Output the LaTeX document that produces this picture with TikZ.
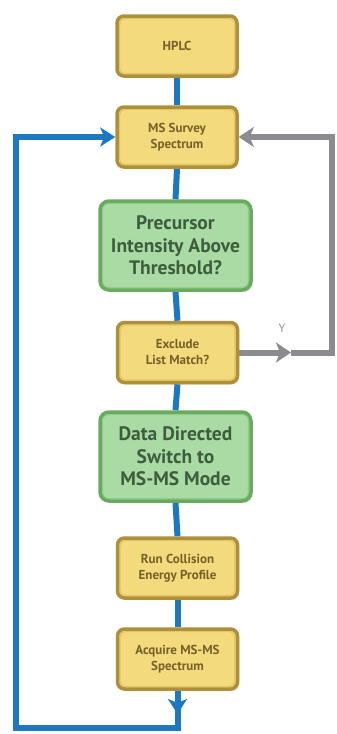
\documentclass[tikz,border=0pt]{standalone}
\usepackage{fontspec}
\setmainfont{PT Sans}
\usetikzlibrary{arrows.meta,shadows,backgrounds}
\definecolor{boxyellow}{HTML}{F3DA7C}
\definecolor{boxgold}{HTML}{AE8F3A}
\definecolor{boxrim}{HTML}{E2C667}
\definecolor{textbrown}{HTML}{76612A}
\definecolor{boxgreen}{HTML}{AADBA4}
\definecolor{boxgreenedge}{HTML}{68AA5E}
\definecolor{greenrim}{HTML}{92CB8B}
\definecolor{textgreen}{HTML}{3E5C3E}
\definecolor{flowblue}{HTML}{1C78C0}
\definecolor{flowgray}{HTML}{8C8C90}
\tikzset{
  innerrim/.style={path picture={
    \draw[#1, line width=1.2pt, rounded corners=5pt]
      ([shift={(2.6pt,-2.6pt)}]path picture bounding box.north west) rectangle
      ([shift={(-2.6pt,2.6pt)}]path picture bounding box.south east);}},
  stepbox/.style={draw=boxgold, fill=boxyellow, line width=3.5pt,
    rounded corners=7pt, minimum width=120pt, minimum height=60pt,
    inner sep=2pt, align=center, text=textbrown, innerrim=boxrim,
    font=\bfseries\fontsize{13}{16}\selectfont,
    drop shadow={opacity=0.25, shadow xshift=1.5pt, shadow yshift=-2pt}},
  decisionbox/.style={draw=boxgreenedge, fill=boxgreen, line width=3.5pt,
    rounded corners=9pt, minimum width=151pt, minimum height=89pt,
    inner sep=2pt, align=center, text=textgreen, innerrim=greenrim,
    font=\bfseries\fontsize{19.5}{22.5}\selectfont,
    drop shadow={opacity=0.25, shadow xshift=1.5pt, shadow yshift=-2pt}},
  blueflow/.style={draw=flowblue, line width=6pt},
  grayflow/.style={draw=flowgray, line width=6pt},
  bluetip/.style={-{Stealth[length=15pt,width=19pt,inset=4pt]}},
  graytip/.style={-{Stealth[length=15pt,width=20pt,inset=4pt]}},
}
\begin{document}
\begin{tikzpicture}[x=1pt,y=-1pt]
\useasboundingbox (0,0) rectangle (337,734);

\node[stepbox] (hplc) at (177,46) {HPLC};
\node[stepbox] (survey) at (177,137) {MS Survey\\Spectrum};
\node[decisionbox] (precursor) at (175.5,245.5) {Precursor\\Intensity Above\\Threshold?};
\node[stepbox] (exclude) at (177.5,352.5) {Exclude\\List Match?};
\node[decisionbox] (switch) at (175.5,456.5) {Data Directed\\Switch to\\MS-MS Mode};
\node[stepbox] (collision) at (177.5,568) {Run Collision\\Energy Profile};
\node[stepbox] (acquire) at (177.5,659) {Acquire MS-MS\\Spectrum};

\coordinate (loopbr) at (177.5,728);
\coordinate (loopbl) at (16,728);
\coordinate (downtip) at (177.5,714);
\coordinate (grayr) at (332,352.5);
\coordinate (graytr) at (332,137);
\coordinate (graymid) at (291,352.5);

\node[text=flowgray, font=\fontsize{12}{14}\selectfont] (ylabel) at (282,328) {Y};

\begin{scope}[on background layer]
  \fill[white] (0,0) rectangle (337,734);
  % main vertical trunk
  \draw[blueflow] (hplc.south) -- (survey.north);
  \draw[blueflow] (survey.south) -- (precursor.north);
  \draw[blueflow] (precursor.south) -- (exclude.north);
  \draw[blueflow] (exclude.south) -- (switch.north);
  \draw[blueflow] (switch.south) -- (collision.north);
  \draw[blueflow] (collision.south) -- (acquire.north);
  % return loop back to the survey scan
  \draw[blueflow, bluetip] (acquire.south) -- (loopbr) -- (loopbl) |- (survey.west);
  \draw[blueflow, bluetip] (acquire.south) -- (downtip);
  % excluded precursor goes back to survey
  \draw[grayflow, graytip] (exclude.east) -- (graymid);
  \draw[grayflow, graytip] (graymid) -- (grayr) -- (graytr) -- (survey.east);
\end{scope}
\end{tikzpicture}
\end{document}
